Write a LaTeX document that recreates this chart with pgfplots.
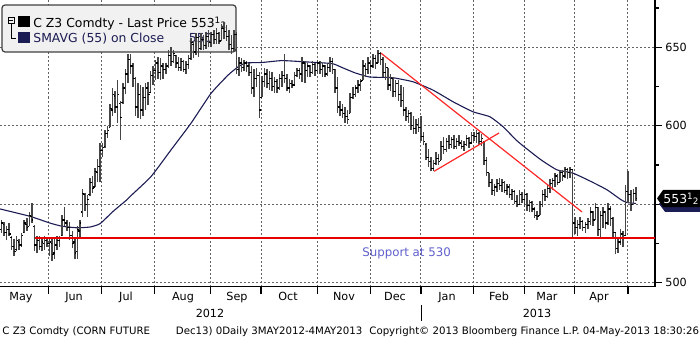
\documentclass[border=0pt]{standalone}
\usepackage{pgfplots}
\pgfplotsset{compat=1.18}
\usepackage{pgfplotstable}
\usepackage{fontspec}
\setmainfont{DejaVu Sans}
\definecolor{smanavy}{RGB}{28,28,84}
\definecolor{trendred}{RGB}{255,40,40}
\definecolor{suppred}{RGB}{230,0,0}
\definecolor{suppblue}{RGB}{95,95,205}
\definecolor{gridgray}{RGB}{100,100,100}
\definecolor{legfill}{RGB}{241,241,241}
\definecolor{barcol}{RGB}{70,70,70}
\newcommand\legfont{\fontsize{6.2}{7}\selectfont}
\newcommand\monfont{\fontsize{5.6}{6.5}\selectfont}
\newcommand\footfont{\fontsize{5.1}{6}\selectfont}
\newcommand\tickfont{\fontsize{5.6}{6.5}\selectfont}
\newcommand\halfsup{\raisebox{0.55ex}{\fontsize{4.4}{5}\selectfont 1}\kern0.02em\raisebox{-0.15ex}{\fontsize{4.4}{5}\selectfont 2}}

\pgfplotstableread{
i o h l c
0 534 540 532 538
1 537 539 530 532
2 532 536 527 534
3 534 538 530 531
4 529 530 521 523
5 523 528 517 520
6 521 530 520 527
7 526 528 521 524
8 524 532 523 530
9 532 540 532 538
10 537 541 533 535
11 536 545 536 543
12 542 551 538 540
13 536 537 520 524
14 524 530 519 527
15 527 530 521 523
16 523 529 520 526
17 525 530 521 528
18 527 528 523 525
19 525 528 517 526
20 525 529 514 518
21 519 528 515 524
22 524 530 521 527
23 527 530 523 529
24 530 543 530 540
25 540 548 536 538
26 538 540 533 535
27 535 539 527 530
28 530 533 522 525
29 526 529 515 519
30 520 536 515 534
31 533 540 528 538
32 545 560 542 557
33 556 557 546 550
34 550 556 542 553
35 556 567 555 564
36 564 568 557 560
37 561 573 561 571
38 570 579 564 574
39 574 589 564 584
40 584 589 580 586
41 587 597 586 595
42 595 600 592 597
43 599 614 599 611
44 610 624 606 620
45 619 622 608 612
46 612 629 602 620
47 614 616 591 605
48 615 627 614 624
49 624 636 620 633
50 633 646 627 642
51 642 646 633 638
52 638 640 625 630
53 630 631 606 612
54 612 627 605 620
55 620 626 604 610
56 610 625 606 618
57 618 627 610 624
58 624 628 613 620
59 621 635 621 632
60 632 638 626 635
61 635 642 629 640
62 640 644 630 634
63 634 643 629 638
64 638 640 630 636
65 636 640 633 638
66 638 648 637 645
67 645 650 638 641
68 641 648 640 646
69 645 645 637 640
70 640 644 635 637
71 637 643 635 641
72 641 642 634 636
73 636 641 633 639
74 639 645 636 643
75 643 656 642 653
76 652 654 643 647
77 647 659 645 656
78 656 657 644 649
79 649 659 648 655
80 655 658 648 651
81 651 660 649 657
82 657 661 650 653
83 653 660 650 658
84 658 661 652 655
85 655 662 652 659
86 659 660 652 654
87 654 665 654 662
88 662 666 655 660
89 660 664 654 657
90 657 661 648 652
91 652 658 646 649
92 649 661 647 658
93 658 660 633 636
94 636 644 632 640
95 640 643 634 637
96 637 642 635 640
97 640 641 634 638
98 638 640 632 634
99 634 638 620 624
100 624 636 618 630
101 630 637 625 632
102 632 634 605 610
103 618 632 618 628
104 628 637 625 633
105 633 636 624 627
106 627 635 623 630
107 630 634 622 625
108 625 631 621 628
109 628 630 621 624
110 624 633 623 630
111 630 635 625 632
112 632 646 627 630
113 630 633 622 624
114 624 630 621 627
115 627 629 624 626
116 626 634 626 632
117 632 637 631 635
118 635 637 630 633
119 633 644 628 640
120 640 641 627 635
121 635 640 631 638
122 638 639 631 634
123 634 641 633 639
124 639 640 632 635
125 635 642 633 640
126 640 641 633 636
127 636 640 631 638
128 638 639 631 633
129 633 640 632 637
130 637 644 634 641
131 641 643 633 636
132 636 636 621 624
133 624 631 608 612
134 612 616 606 610
135 610 614 605 608
136 608 612 602 606
137 606 610 601 604
138 608 621 608 618
139 618 625 617 620
140 620 626 618 624
141 624 629 621 626
142 626 630 622 628
143 629 642 629 638
144 638 640 631 636
145 636 644 633 640
146 640 642 633 638
147 638 646 637 643
148 643 645 636 640
149 640 648 640 646
150 646 647 639 642
151 642 644 631 634
152 634 640 629 637
153 637 637 623 626
154 626 633 622 630
155 630 631 618 622
156 622 629 618 627
157 627 629 616 620
158 620 626 612 616
159 616 625 606 610
160 610 612 603 606
161 606 610 602 608
162 608 609 597 600
163 600 606 595 598
164 598 604 595 601
165 601 605 596 599
166 599 606 590 593
167 593 596 588 590
168 588 589 578 580
169 580 585 574 577
170 577 580 571 573
171 573 578 571 576
172 576 583 575 579
173 579 582 575 577
174 578 590 578 587
175 587 593 582 585
176 585 592 583 590
177 590 594 585 588
178 588 593 586 591
179 591 594 585 587
180 587 592 585 590
181 590 594 587 589
182 589 591 585 587
183 587 590 584 588
184 588 594 587 592
185 592 593 586 589
186 589 596 589 594
187 594 596 590 593
188 593 597 589 595
189 595 596 588 590
190 590 595 587 592
191 590 590 575 578
192 578 580 568 570
193 570 570 561 564
194 564 566 556 559
195 559 563 555 561
196 561 566 558 563
197 563 567 559 562
198 562 566 558 564
199 564 565 557 559
200 559 563 556 561
201 561 563 554 556
202 556 560 553 558
203 558 559 550 552
204 552 556 548 550
205 550 559 550 556
206 556 558 551 553
207 553 559 548 556
208 556 557 546 549
209 549 553 545 551
210 551 552 545 547
211 547 548 541 543
212 543 546 540 542
213 543 552 543 550
214 550 559 548 556
215 556 560 552 555
216 555 562 554 560
217 560 566 557 563
218 563 567 559 565
219 565 570 561 568
220 568 569 562 564
221 564 572 564 570
222 570 572 565 568
223 568 574 567 572
224 572 573 566 570
225 570 574 567 572
226 572 572 528 538
227 538 542 531 535
228 535 540 530 537
229 537 542 534 539
230 539 540 533 535
231 535 539 532 537
232 537 541 534 539
233 539 548 537 545
234 545 546 536 540
235 540 551 540 548
236 548 548 530 534
237 534 546 529 543
238 543 548 535 545
239 545 546 534 538
240 538 551 537 547
241 547 549 536 541
242 541 542 529 532
243 532 532 518 522
244 522 528 519 526
245 526 534 524 531
246 531 533 523 528
247 530 562 530 558
248 558 571 551 556
249 556 559 546 550
250 550 560 550 557
251 557 561 552 553.5
}\bars

\begin{document}
\begin{tikzpicture}
\useasboundingbox (0pt,-25.75pt) rectangle (350pt,143.25pt);
\begin{axis}[
  at={(0pt,0pt)}, anchor=south west,
  scale only axis, width=327.5pt, height=143.25pt,
  xmin=-0.59, xmax=258.6, ymin=497.6, ymax=680.1,
  axis x line*=bottom, axis y line*=right,
  axis line style={black, line width=0.6pt},
  xtick={18.6,39.6,60.5,82.7,102.7,124.9,146.0,166.0,186.9,206.8,226.6,247.9},
  xticklabels={},
  ytick={500,550,600,650},
  yticklabels={500,,600,650},
  minor ytick={525,575,625,675},
  xmajorgrids, ymajorgrids,
  grid style={gridgray, dash pattern=on 1pt off 1pt, line width=0.5pt},
  tick align=outside,
  major tick length=3.5pt, minor tick length=2pt,
  tick style={black, line width=0.6pt},
  yticklabel style={font=\tickfont, inner sep=0pt, xshift=1.5pt},
  /pgf/number format/assume math mode=true,
  clip=false,
]
% legend box (bars are drawn over it)
\draw[rounded corners=1.5pt, fill=legfill, draw=black!75, line width=0.6pt] (axis cs:0.2,676.9) rectangle (axis cs:92.8,647.0);
\fill[black] (axis cs:6.53,669.9) rectangle (axis cs:11.28,662.9);
\fill[smanavy] (axis cs:6.53,659.7) rectangle (axis cs:11.28,652.7);
\draw[black, line width=0.4pt] (axis cs:2.58,669.3) rectangle (axis cs:4.95,665.4);
\draw[black, line width=0.4pt] (axis cs:3.1,667.35) -- (axis cs:4.4,667.35);
\draw[black, line width=0.4pt] (axis cs:3.77,665.4) -- (axis cs:3.77,655.9) -- (axis cs:5.9,655.9);
\node[anchor=base west, inner sep=0pt, font=\legfont] at (axis cs:12.47,662.7) {C Z3 Comdty - Last Price 553\halfsup};
\node[anchor=base west, inner sep=0pt, font=\legfont, text=smanavy] at (axis cs:12.47,652.9) {SMAVG (55) on Close};
\node[anchor=base east, inner sep=0pt, font=\legfont, text=smanavy] at (axis cs:83.7,652.9) {550};

% 55-day moving average
\addplot[smanavy, line width=0.55pt, mark=none, smooth, tension=0.3] coordinates {
(-0.59,547) (11.28,542.3) (19.2,538) (23.94,536) (29.88,535) (35.02,535.5)
(38.98,537.6) (44.13,545.4) (49.66,552.9) (51.25,555.5) (59.16,567.6)
(67.07,584.6) (74.99,601.6) (82.9,620.6) (89.63,632.2) (93.59,637.5)
(96.75,640) (103.08,640.3) (111.0,641.5) (120.1,640.7) (130.78,639.6)
(134.74,637.1) (139.88,633.7) (145.42,631.1) (150.57,630.8) (154.92,630.6)
(162.83,628) (170.75,622.7) (178.66,615.3) (186.58,608.9) (193.3,605.7)
(198.45,599.4) (203.59,591) (206.76,586.7) (213.48,578.3) (219.81,571.9)
(226.14,569.8) (233.26,564.5) (239.59,559.2) (245.13,552.9) (247.5,551.1)
(251.07,550.5)
};

% price bars: high-low, open tick, close tick
\addplot[barcol, line width=0.75pt, mark=none, quiver={u=0, v=\thisrow{h}-\thisrow{l}}] table[x=i, y=l] {\bars};
\addplot[black, line width=0.6pt, mark=none, quiver={u=-0.6, v=0}] table[x=i, y=o] {\bars};
\addplot[black, line width=0.6pt, mark=none, quiver={u=0.6, v=0}] table[x=i, y=c] {\bars};

% support and trend lines
\addplot[suppred, line width=0.6pt, mark=none] coordinates {(13.3,528.5) (258.6,528.5)};
\addplot[trendred, line width=0.6pt, mark=none] coordinates {(150.2,646.2) (229.7,545.1)};
\addplot[trendred, line width=0.6pt, mark=none] coordinates {(171.2,571.0) (196.9,595.4)};
\node[text=suppblue, font=\fontsize{5.9}{7}\selectfont] at (axis cs:160.3,518.7) {Support at 530};

% right-hand value tags
\fill[smanavy] (axis cs:260.2,550.2) -- (axis cs:262.6,555.2) -- (axis cs:276.4,555.2) -- (axis cs:276.4,545.1) -- (axis cs:262.6,545.1) -- cycle;
\fill[black] (axis cs:259.4,553.7) -- (axis cs:261.8,559.1) -- (axis cs:276.4,559.1) -- (axis cs:276.4,548.2) -- (axis cs:261.8,548.2) -- cycle;
\node[text=white, font=\legfont, inner sep=0pt] at (axis cs:268.9,553.5) {553\halfsup};
\end{axis}

\begin{scope}[yshift=143.25pt, x=0.5pt, y=-0.5pt]
\foreach \m/\xx in {May/21,Jun/74,Jul/126,Aug/183,Sep/237,Oct/288,Nov/344,Dec/395,Jan/447,Feb/499,Mar/547,Apr/599}
  \node[anchor=base, inner sep=0pt, font=\monfont] at (\xx,300) {\m};
\node[anchor=base, inner sep=0pt, font=\monfont] at (210,317.5) {2012};
\node[anchor=base, inner sep=0pt, font=\monfont] at (537,317.5) {2013};
\draw[black, line width=0.5pt] (421,305) -- (421,321);
\node[anchor=base west, inner sep=0pt, font=\footfont] at (2,334) {C Z3 Comdty (CORN FUTURE};
\node[anchor=base west, inner sep=0pt, font=\footfont] at (175.5,334) {Dec13) 0Daily 3MAY2012-4MAY2013};
\node[anchor=base east, inner sep=0pt, font=\footfont] at (699.5,334) {Copyright\textcopyright{} 2013 Bloomberg Finance L.P. 04-May-2013 18:30:26};
\end{scope}
\end{tikzpicture}
\end{document}
